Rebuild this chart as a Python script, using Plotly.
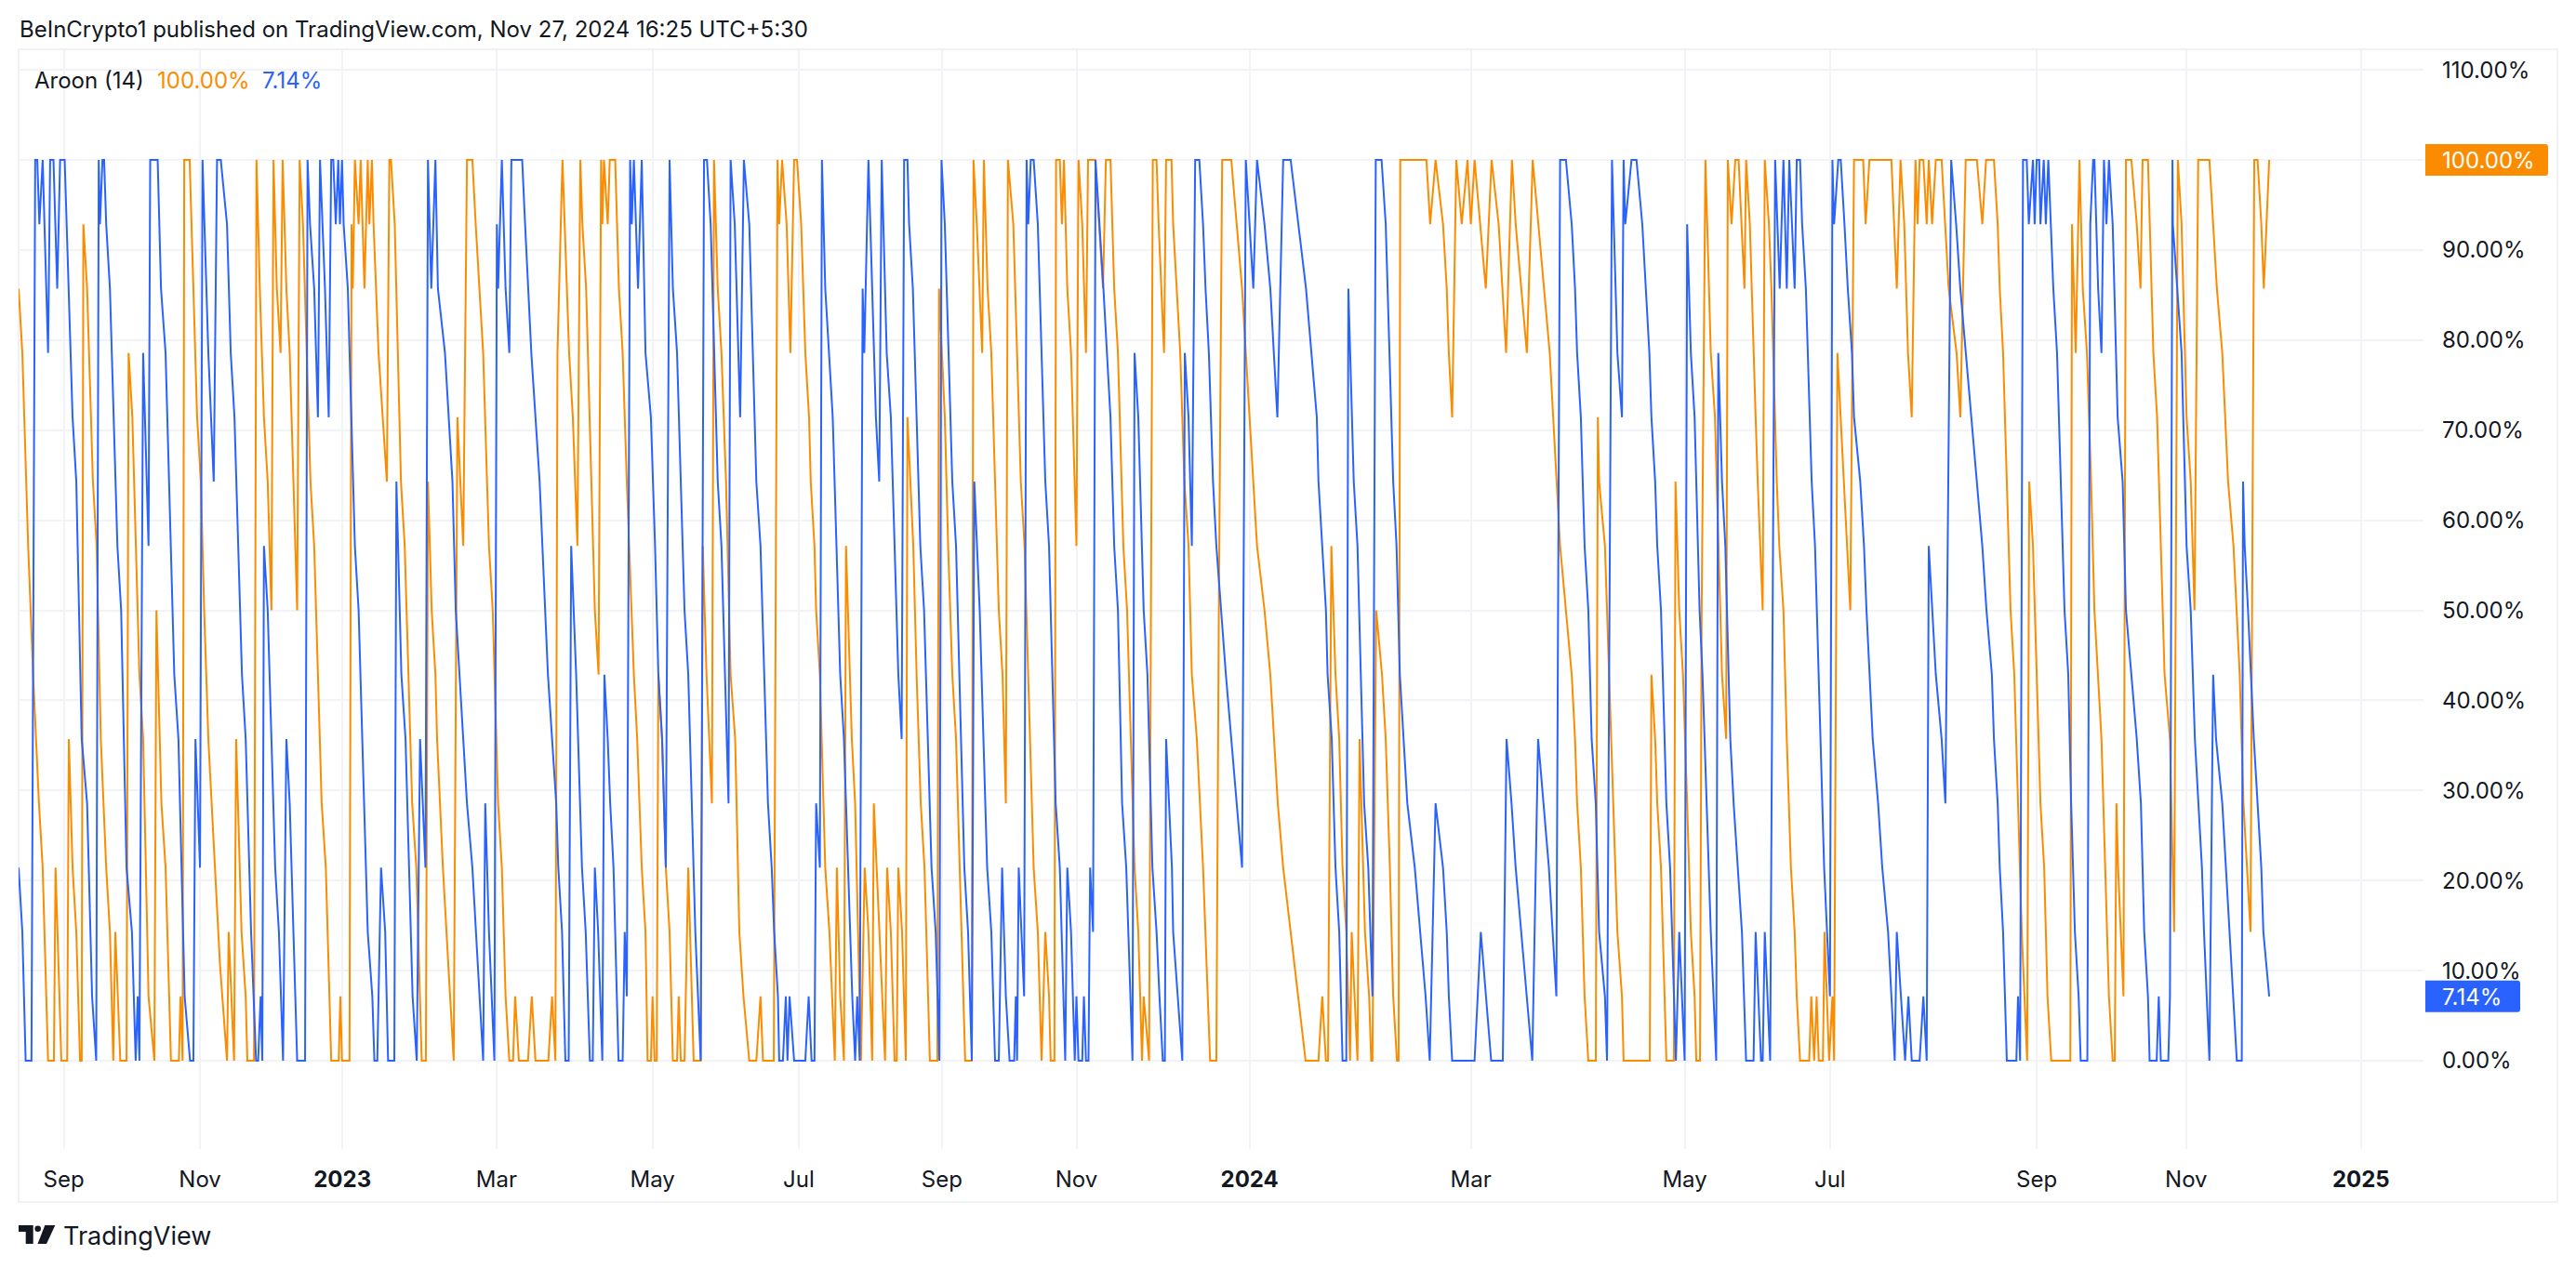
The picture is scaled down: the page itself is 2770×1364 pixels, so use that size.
import plotly.graph_objects as go

# Time positions along the chart's (irregular) time scale, one bar is about 8.7 units.
# Each section: (time position within section, Aroon steps out of 14)
SECTION_START = [0, 1568, 3136, 4637]
STEP_PCT = 100 / 14

lower_a = [(45,3),(54,2),(62,0),(76,0),(85,14),(90,14),(95,13),(103,14),(116,11),(121,14),(129,14),(138,12),(145,14),(156,14),(175,10),(184,9),(197,5),(210,4),(222,1),(232,0),(238,14),(241,13),(247,14),(251,14),(256,13),(265,12),(283,8),(292,7),(305,3),(318,2),(327,0),(332,1),(336,0),(345,11),(358,8),(362,14),(380,14),(388,12),(399,11),(420,6),(430,5),(445,1),(458,0),(466,0),(471,5),(482,3),(488,14),(502,11),(515,9),(523,14),(532,14),(547,13),(556,11),(565,10),(583,6),(592,5),(605,2),(617,0),(622,0),(628,1),(632,0),(636,8),(645,7),(663,3),(672,2),(682,0),(690,5),(698,4),(716,0),(735,0),(741,14),(747,13),(757,12),(766,10),(771,14),(783,12),(792,10),(798,14),(803,14),(809,13),(815,14),(819,13),(824,14),(828,13),(838,12),(855,8),(864,7),(886,2),(897,1),(902,0),(909,0),(918,3),(928,2),(935,0),(950,0),(955,9),(967,6),(977,5),(994,1),(1004,0),(1012,5),(1025,3),(1031,14),(1039,12),(1049,14),(1055,12),(1072,11),(1090,9),(1098,7),(1115,5),(1125,4),(1138,3),(1164,0),(1169,4),(1178,2),(1191,0),(1197,13),(1200,12),(1209,14),(1218,12),(1227,11),(1232,14),(1258,14),(1265,13),(1280,11),(1300,9),(1320,6),(1340,4),(1345,3),(1354,2),(1362,0),(1370,0),(1376,8),(1388,6),(1402,3),(1411,2),(1421,0),(1428,0),(1433,3),(1441,2),(1451,0),(1456,6),(1464,5),(1470,4),(1478,3),(1490,0),(1500,0),(1505,2),(1510,1),(1518,14),(1522,13),(1527,14),(1537,12),(1546,14),(1555,11)]
lower_b = [(0,10),(10,8),(18,6),(27,5),(36,3),(45,14),(53,12),(63,11),(72,9),(81,7),(90,6),(98,4),(107,2),(120,0),(128,14),(135,14),(144,13),(161,9),(170,8),(187,4),(192,14),(202,13),(215,10),(224,14),(237,13),(254,9),(264,8),(282,4),(291,3),(297,2),(306,1),(309,0),(318,0),(325,1),(329,0),(334,1),(345,0),(372,0),(380,1),(387,0),(394,0),(398,4),(407,3),(412,14),(420,12),(438,10),(456,6),(465,5),(485,1),(492,0),(497,1),(503,0),(510,12),(514,11),(524,14),(542,10),(550,9),(556,14),(568,11),(578,10),(596,6),(604,5),(610,14),(618,14),(622,13),(631,12),(649,8),(658,7),(676,3),(686,2),(695,0),(700,14),(708,13),(726,9),(735,8),(755,3),(764,2),(773,0),(779,9),(792,7),(810,3),(820,2),(829,0),(838,0),(846,3),(855,1),(864,0),(875,0),(879,1),(882,0),(886,3),(899,1),(905,14),(909,13),(915,14),(922,14),(932,13),(950,9),(959,8),(975,4),(985,3),(998,0),(1003,3),(1012,2),(1021,0),(1025,1),(1030,0),(1039,0),(1043,1),(1048,0),(1054,0),(1058,3),(1065,2),(1071,14),(1090,12),(1107,10),(1116,8),(1125,7),(1135,4),(1145,3),(1160,0),(1165,11),(1174,10),(1187,7),(1196,6),(1208,3),(1218,2),(1225,1),(1233,0),(1238,0),(1241,5),(1255,3),(1258,2),(1280,0),(1286,11),(1295,10),(1303,8),(1311,14),(1321,14),(1330,13),(1336,12),(1344,11),(1354,9),(1362,8),(1385,6),(1424,3),(1433,14),(1451,12),(1460,14),(1478,13),(1492,12),(1509,10),(1523,14),(1541,14)]
lower_c = [(10,12),(36,10),(40,9),(58,7),(62,6),(72,5),(81,3),(90,2),(98,0),(107,0),(112,12),(125,9),(134,8),(150,4),(160,3),(170,1),(178,14),(192,14),(202,13),(220,9),(228,8),(236,6),(254,4),(272,3),(298,1),(308,0),(322,4),(340,3),(349,2),(354,1),(362,0),(416,0),(431,2),(456,0),(484,0),(493,5),(505,4),(515,3),(555,0),(569,5),(595,3),(613,1),(622,14),(636,14),(650,13),(658,12),(663,11),(672,10),(681,8),(690,7),(698,5),(708,4),(716,2),(730,1),(735,0),(747,14),(760,11),(771,10),(775,14),(779,13),(794,14),(806,14),(820,13),(837,11),(842,10),(851,9),(856,8),(865,7),(878,4),(887,3),(901,0),(909,2),(922,0),(928,13),(937,11),(946,10),(958,7),(965,6),(975,4),(985,2),(998,0),(1003,11),(1012,9),(1020,8),(1032,5),(1040,4),(1060,2),(1070,0),(1088,0),(1093,2),(1106,0),(1110,0),(1115,2),(1128,0),(1140,14),(1151,12),(1160,14),(1168,12),(1174,14),(1187,12),(1192,14),(1200,14),(1205,13),(1214,12),(1228,9),(1236,8),(1258,3),(1272,1),(1278,14),(1282,13),(1292,14),(1298,14),(1307,13),(1315,12),(1325,11),(1330,10),(1345,9),(1354,8),(1360,7),(1375,5),(1388,4),(1398,3),(1412,2),(1428,0),(1433,2),(1453,0),(1461,1),(1469,0),(1488,0),(1497,1)]
lower_d = [(4,0),(9,8),(26,6),(40,5),(49,4),(63,14),(75,13),(85,12),(138,8),(148,7),(161,6),(166,5),(175,4),(180,3),(188,2),(197,0),(220,0),(224,1),(229,0),(236,14),(245,14),(250,13),(260,14),(264,13),(269,14),(275,14),(278,13),(286,14),(291,13),(297,14),(303,13),(309,12),(318,11),(327,9),(336,7),(345,6),(352,4),(361,2),(370,1),(375,0),(391,0),(398,13),(405,14),(408,14),(417,12),(425,11),(431,14),(437,13),(443,14),(452,13),(464,10),(476,9),(484,7),(510,5),(520,4),(528,2),(537,1),(541,0),(558,0),(563,1),(568,0),(586,0),(590,1),(596,14),(597,13),(618,11),(630,8),(640,7),(650,5),(667,3),(672,2),(685,0),(694,6),(701,5),(716,4),(751,0),(763,0),(766,9),(770,8),(778,7),(792,5),(810,3),(815,2),(829,1)]

upper_a = [(45,12),(54,11),(68,8),(80,6),(94,4),(103,3),(116,0),(130,0),(134,3),(148,0),(162,0),(166,5),(175,3),(184,2),(193,0),(197,0),(201,13),(210,12),(224,9),(233,8),(243,5),(256,3),(265,2),(273,0),(278,2),(290,0),(305,0),(310,11),(319,10),(336,6),(345,5),(358,1),(372,0),(377,7),(389,4),(399,3),(412,0),(431,0),(435,1),(440,0),(444,14),(457,14),(466,12),(475,10),(484,9),(492,7),(502,5),(510,4),(517,3),(530,1.5),(547,0),(551,2),(564,0),(569,5),(582,2),(592,1),(596,0),(612,0),(618,14),(626,12),(636,10),(645,9),(654,7),(659,14),(667,12),(676,11),(681,14),(690,12),(698,11),(716,7),(722,14),(730,13),(748,9),(757,8),(775,4),(785,3),(798,0),(816,0),(820,1),(824,0),(842,0),(847,13),(850,12),(855,14),(864,13),(869,14),(878,12),(886,14),(890,13),(896,14),(900,13),(912,11),(932,9),(938,14),(942,14),(951,13),(966,9),(975,8),(993,4),(1003,3),(1016,0),(1026,0),(1031,9),(1040,7),(1049,6),(1053,5),(1067,3),(1093,0),(1102,10),(1116,8),(1125,14),(1138,14),(1146,13),(1164,11),(1178,8),(1187,7),(1200,4),(1209,3),(1218,1),(1227,0),(1236,0),(1241,1),(1250,0),(1272,0),(1281,1),(1290,0),(1321,0),(1330,1),(1338,0),(1343,11),(1355,14),(1360,13),(1371,11),(1380,10),(1391,8),(1398,14),(1403,13),(1412,12),(1420,10),(1433,7),(1442,6),(1448,14),(1451,13),(1455,14),(1464,13),(1469,14),(1482,14),(1491,12),(1500,11),(1510,9),(1527,6),(1535,5),(1546,3),(1555,2),(1560,0)]
upper_b = [(0,0),(4,1),(9,0),(14,0),(18,6),(27,5),(36,3),(45,2),(53,0),(63,0),(67,1),(72,0),(81,0),(90,3),(103,0),(120,0),(125,8),(134,6),(147,4),(152,14),(161,12),(170,11),(181,9),(192,6),(203,5),(213,2),(223,1),(237,0),(254,0),(264,1),(270,0),(296,0),(305,14),(309,13),(316,14),(327,13),(336,11),(345,14),(352,14),(362,13),(372,11),(381,10),(385,9),(394,8),(398,7),(407,6),(420,3),(430,2),(443,0),(448,3),(456,1),(465,0),(470,8),(484,5),(492,4),(506,0),(515,3),(524,2),(533,0),(537,4),(551,2),(564,0),(569,3),(578,2),(587,0),(592,0),(596,3),(605,2),(614,0),(618,10),(632,8),(640,6),(650,4),(659,3),(672,0),(690,0),(694,12),(708,10),(716,8),(726,6),(735,5),(748,2),(757,0),(773,0),(777,14),(785,13),(798,11),(802,14),(811,12),(820,11),(838,7),(847,6),(855,4),(860,14),(873,13),(882,11),(891,9),(900,8),(909,6),(922,3),(932,2),(941,0),(950,2),(959,1),(963,0),(972,0),(976,14),(985,14),(990,13),(995,14),(1003,12),(1012,11),(1025,8),(1030,14),(1039,13),(1048,11),(1053,14),(1070,14),(1089,12),(1096,14),(1107,14),(1116,12),(1125,11),(1138,8),(1147,7),(1160,4),(1165,3),(1174,2),(1183,0),(1187,1),(1200,0),(1209,14),(1218,14),(1223,13),(1236,11),(1241,14),(1254,14),(1258,13),(1275,11),(1285,9),(1295,8),(1303,6),(1315,5),(1330,3),(1336,2),(1347,0),(1362,0),(1368,7),(1376,14),(1398,14),(1424,12),(1433,11),(1451,9),(1460,8),(1478,7),(1492,6),(1510,4),(1523,3)]
upper_c = [(9,0),(40,0),(49,1),(58,0),(63,0),(71,8),(81,6),(90,5),(98,3),(107,2),(116,0),(120,2),(134,0),(139,5),(152,2),(162,1),(167,0),(170,0),(179,7),(193,6),(202,5),(212,3),(220,1),(229,0),(233,0),(237,14),(300,14),(309,13),(322,14),(340,13),(349,12),(354,11),(362,10),(372,14),(385,13),(399,14),(407,13),(416,14),(443,12),(457,14),(474,13),(492,11),(506,14),(515,13),(542,11),(556,14),(597,11),(605,10),(622,8),(650,6),(658,5),(663,4),(672,3),(681,1),(690,0),(708,0),(713,10),(716,9),(730,8),(735,7),(745,5),(760,2),(771,1),(775,0),(838,0),(842,6),(851,5),(856,4),(865,3),(878,0),(896,0),(900,9),(909,7),(918,6),(928,4),(937,2),(946,1),(950,0),(959,0),(963,7),(972,14),(985,11),(995,10),(1003,8),(1012,6),(1022,5),(1026,14),(1035,13),(1044,14),(1052,14),(1066,12),(1070,14),(1079,13),(1093,10),(1098,9),(1110,7),(1115,14),(1125,13),(1131,12),(1144,9),(1150,8),(1160,7),(1168,5),(1178,3),(1187,2),(1192,1),(1200,0),(1222,0),(1227,1),(1234,0),(1240,1),(1245,0),(1255,0),(1259,2),(1270,0),(1278,1),(1282,0),(1290,11),(1305,9),(1312,8),(1321,7),(1330,14),(1352,14),(1358,13),(1367,14),(1420,14),(1433,12),(1442,14),(1451,13),(1460,11),(1469,10),(1478,14),(1483,13),(1488,14),(1497,14)]
upper_d = [(4,13),(9,14),(17,13),(26,14),(40,14),(49,13),(57,12),(76,11),(85,10),(98,14),(125,14),(138,13),(147,14),(166,14),(175,13),(180,12),(188,11),(197,9),(206,7),(215,6),(224,4),(233,2),(246,0),(251,9),(260,8),(269,6),(278,4),(287,3),(295,1),(304,0),(350,0),(354,13),(363,11),(372,14),(380,12),(390,11),(400,9),(408,7),(417,6),(425,5),(443,1),(452,0),(457,0),(461,4),(465,3),(478,1),(484,14),(497,14),(510,13),(519,12),(524,14),(537,14),(550,11),(559,10),(568,8),(577,6),(590,5),(600,2),(609,14),(618,13),(630,10),(640,9),(649,7),(658,14),(685,14),(703,12),(716,11),(730,9),(743,8),(758,6),(767,4),(784,2),(793,14),(801,14),(810,13),(816,12),(829,14)]

month_positions = [154, 482, 825, 1196, 1572, 1924, 2269, 2593, 3010, 3543, 4058, 4408, 4906, 5266, 5687]
month_labels = ["Sep", "Nov", "<b>2023</b>", "Mar", "May", "Jul", "Sep", "Nov", "<b>2024</b>", "Mar", "May", "Jul", "Sep", "Nov", "<b>2025</b>"]
percent_ticks = [0, 10, 20, 30, 40, 50, 60, 70, 80, 90, 100, 110]
percent_labels = ["0.00%", "10.00%", "20.00%", "30.00%", "40.00%", "50.00%", "60.00%", "70.00%", "80.00%", "90.00%", "", "110.00%"]
upper_last = 100.00
lower_last = 7.14

ORANGE = "#FB8C00"
BLUE = "#2962FF"
INK = "#131722"
GRID = "#F2F3F6"
FONT = "Inter"

W, H = 2770, 1364
L, R, T, B = 20, 2606, 54, 1236


def px(x):
    return (x - L) / (R - L)


def py(y):
    return (B - y) / (B - T)


def join(sections):
    xs, ys = [], []
    for start, sec in zip(SECTION_START, sections):
        for pos, steps in sec:
            xs.append(start + pos)
            ys.append(steps * STEP_PCT)
    return xs, ys


fig = go.Figure()
ux, uy = join([upper_a, upper_b, upper_c, upper_d])
lx, ly = join([lower_a, lower_b, lower_c, lower_d])
fig.add_trace(go.Scatter(x=ux, y=uy, mode="lines", line=dict(color=ORANGE, width=2), name="Aroon Up", hoverinfo="skip"))
fig.add_trace(go.Scatter(x=lx, y=ly, mode="lines", line=dict(color=BLUE, width=2), name="Aroon Down", hoverinfo="skip"))

shapes = [
    dict(type="rect", xref="paper", yref="paper", x0=px(20), x1=px(2750), y0=py(1293), y1=py(53),
         line=dict(color="#F0F1F4", width=2), layer="below"),
]


def tag(value, width, color):
    h = 17
    r = 3
    path = (f"M0,{-h} L{width - r},{-h} Q{width},{-h} {width},{-h + r} L{width},{h - r} "
            f"Q{width},{h} {width - r},{h} L0,{h} Z")
    return dict(type="path", xref="paper", yref="y", xsizemode="pixel", ysizemode="pixel",
                xanchor=1 + 2 / (R - L), yanchor=value, path=path, fillcolor=color,
                line=dict(width=0), layer="above")


shapes += [tag(upper_last, 132, ORANGE), tag(lower_last, 102, BLUE)]

logo = dict(type="path", xref="paper", yref="paper", xsizemode="pixel", ysizemode="pixel",
            xanchor=0, yanchor=0, fillcolor=INK, line=dict(width=0), layer="above")
shapes += [
    dict(logo, path="M0,-82 L15.7,-82 L15.7,-102 L7.7,-102 L7.7,-89 L0,-89 Z"),
    dict(logo, path="M28.3,-82 L39.3,-82 L30,-102 L20.5,-102 Z"),
    dict(logo, type="circle", path=None, x0=17.4, x1=24, y0=-89, y1=-82.4),
]
shapes[-1].pop("path")


def note(x, y, text, size=24, color=INK):
    return dict(xref="paper", yref="paper", x=px(x), y=py(y), text=text, showarrow=False,
                xanchor="left", yanchor="middle", xshift=0, borderpad=0,
                font=dict(family=FONT, size=size, color=color))


annotations = [
    note(20, 32, "BeInCrypto1 published on TradingView.com, Nov 27, 2024 16:25 UTC+5:30", 24),
    note(36, 86, "Aroon (14)", 24),
    note(168, 86, "100.00%", 24, ORANGE),
    note(281, 86, "7.14%", 24, BLUE),
    note(67, 1329, "TradingView", 27),
    note(2625, 172, "100.00%", 24, "#FFFFFF"),
    note(2625, 1072, "7.14%", 24, "#FFFFFF"),
]

fig.update_layout(
    width=W, height=H, autosize=False,
    margin=dict(l=L, r=W - R, t=T, b=H - B, pad=0),
    paper_bgcolor="#FFFFFF", plot_bgcolor="#FFFFFF",
    showlegend=False, shapes=shapes, annotations=annotations,
    font=dict(family=FONT, size=24, color=INK),
    xaxis=dict(range=[45, 45 + (R - L) * 2.24], tickmode="array", tickvals=month_positions, ticktext=month_labels,
               showgrid=True, gridcolor=GRID, gridwidth=2, zeroline=False, showline=False, ticks="",
               ticklabelstandoff=16, tickfont=dict(family=FONT, size=24, color=INK)),
    yaxis=dict(range=[(1141 - 1236) / 9.69, (1141 - 54) / 9.69], side="right", tickmode="array", tickvals=percent_ticks,
               ticktext=percent_labels, showgrid=True, gridcolor=GRID, gridwidth=1.5,
               zeroline=False, showline=False, ticks="", ticklabelstandoff=19,
               tickfont=dict(family=FONT, size=24, color=INK)),
)

fig.write_html("out.html", config=dict(displayModeBar=False), post_script="document.body.style.margin='0';")
